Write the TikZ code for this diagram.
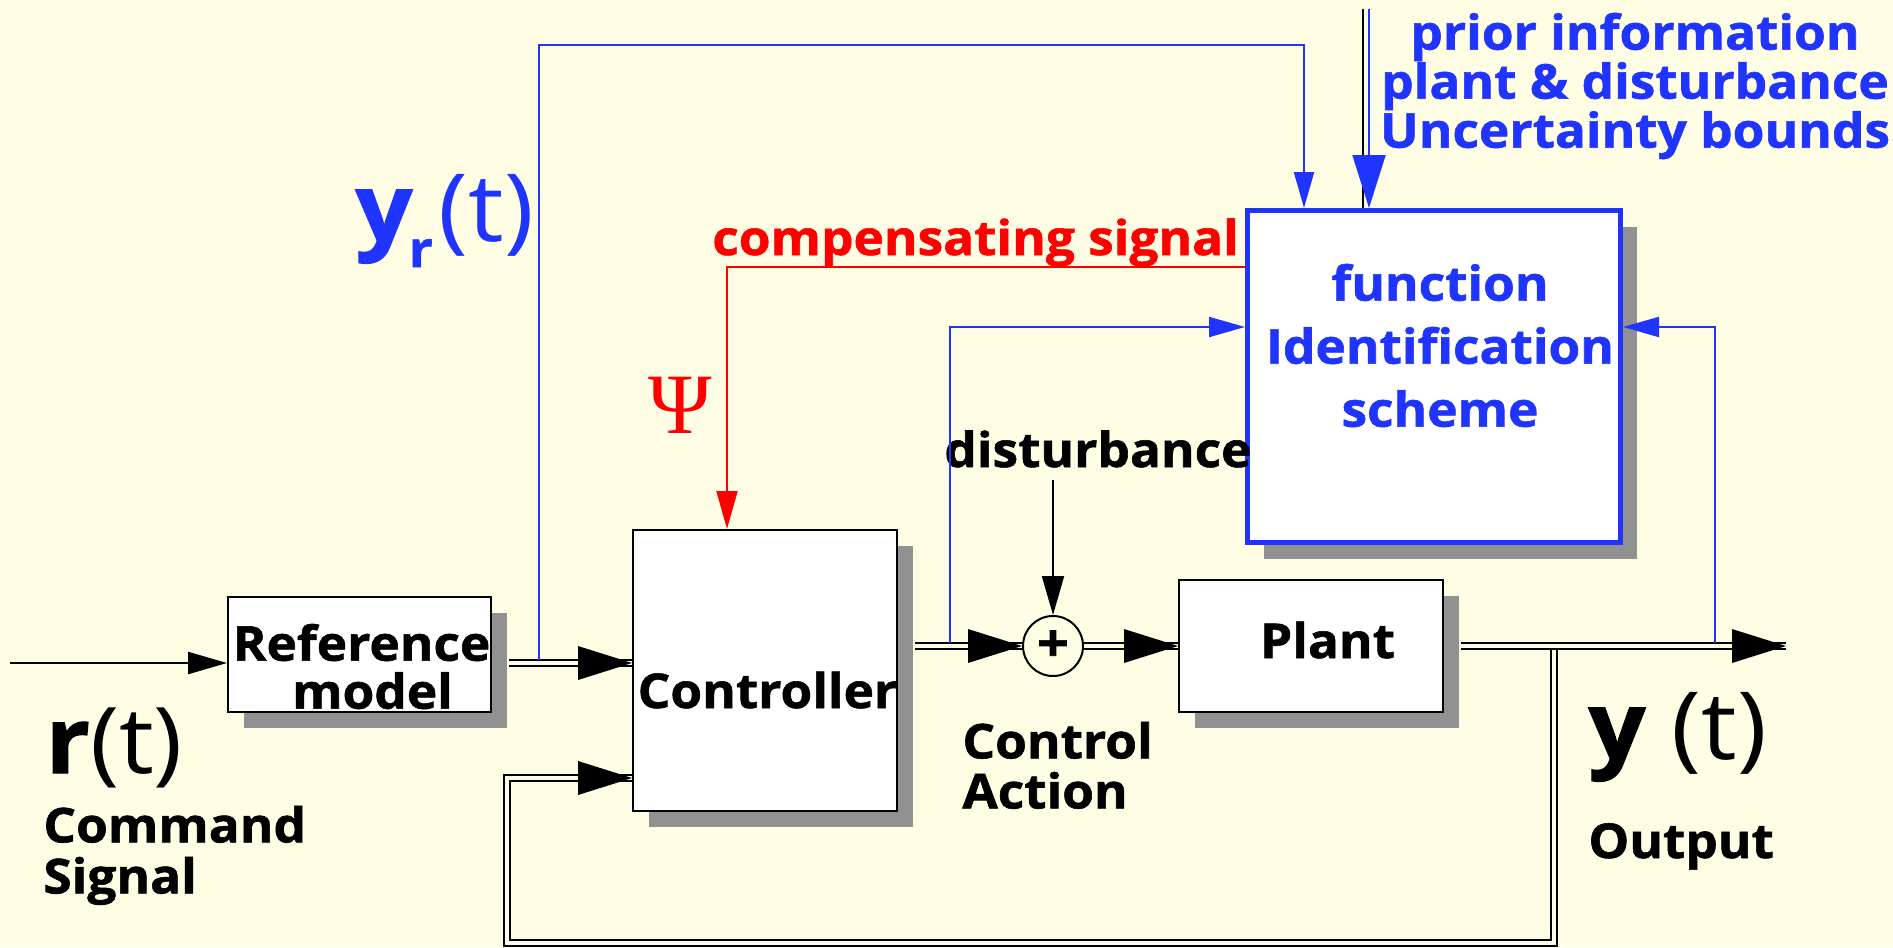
\documentclass[tikz,border=0pt]{standalone}
\usepackage{fontspec}
\setmainfont{Open Sans}[FakeStretch=1.07, BoldFeatures={FakeBold=1.2}]
\newfontfamily\psifont{Liberation Serif}
\usetikzlibrary{arrows.meta,calc,shadows,decorations.markings}

\definecolor{bgcol}{RGB}{255,253,228}
\definecolor{idblue}{RGB}{32,52,255}
\definecolor{shadowgray}{RGB}{145,145,145}

\tikzset{
  blockbox/.style={draw=black, line width=1pt, fill=white, inner sep=0pt,
    drop shadow={shadow xshift=8pt, shadow yshift=-8pt, fill=shadowgray, opacity=1}},
  lbl/.style={inner sep=0pt, font=\fontsize{24}{#1}\selectfont\bfseries},
  lbl/.default=24,
  dbl/.style={draw=black, line width=1pt, double=bgcol, double distance=1.6pt, line join=miter},
  dblarr/.style={dbl, postaction={draw=none, decorate, decoration={markings,
    mark=at position 1 with {\fill[black] (0pt,0pt) -- (-27pt,8.5pt) -- (-27pt,-8.5pt) -- cycle;}}}},
  thinarr/.style={draw=black, line width=1.2pt, -{Triangle[length=19.5pt,width=11pt]}},
  bluearr/.style={draw=idblue, line width=1pt, -{Triangle[length=18pt,width=10pt]}},
  redarr/.style={draw=red, line width=1pt, -{Triangle[length=19pt,width=10.5pt]}},
  priorarr/.style={draw=idblue, line width=1pt, -{Triangle[length=26.5pt,width=16.5pt]}}
}

\begin{document}
\begin{tikzpicture}[x=0.5pt,y=-0.5pt]
  \fill[bgcol] (0,0) rectangle (1893,947);
  \useasboundingbox (0,0) rectangle (1893,947);

  % blocks
  \node[blockbox, minimum width=131.5pt, minimum height=57.5pt] (refbox) at (359.5,654.5) {};
  \node[blockbox, minimum width=132pt, minimum height=140.5pt] (ctrl) at (765,670.5) {};
  \node[blockbox, minimum width=132pt, minimum height=66pt] (plant) at (1311,646) {};
  \node[blockbox, draw=idblue, line width=2.5pt, minimum width=186.5pt, minimum height=166pt] (ident) at (1434,376.5) {};
  \node[draw=black, circle, line width=1pt, fill=bgcol, minimum size=30pt, inner sep=0pt,
    font=\fontsize{26}{26}\selectfont\bfseries] (sum) at (1053,646) {+};

  % texts in the blocks
  \node[lbl, align=center, anchor=north] (reftxt) at (361.5,623.5) {Reference\\\hspace*{11pt}model};
  \node[lbl, anchor=base] (ctrltxt) at (767.5,708) {Controller};
  \node[lbl, anchor=base] (planttxt) at (1327.5,658) {Plant};
  \node[lbl=31.5, align=center, anchor=north, text=idblue] (identtxt) at (1440,263.5) {function\\Identification\\scheme};

  % signal labels
  \node[lbl=25.5, align=left, anchor=north west] (cmdtxt) at (43,805.5) {Command\\Signal};
  \node[lbl=25, align=left, anchor=north west] (acttxt) at (962,721.5) {Control\\Action};
  \node[lbl, anchor=base west] (outtxt) at (1588,858) {Output};
  \node[lbl, anchor=base west] (disttxt) at (944,467) {disturbance};
  \node[lbl, anchor=base west, text=red] (comptxt) at (712,255) {compensating signal};
  \node[lbl=24.5, align=center, anchor=north, text=idblue] (priortxt) at (1635,12.5)
    {prior information\\plant \& disturbance\\Uncertainty bounds};
  \node[anchor=base west, inner sep=0pt, text=red, font=\psifont\fontsize{43}{43}\selectfont] (psitxt) at (648,433) {Ψ};
  \node[anchor=base west, inner sep=0pt, font=\fontsize{46}{46}\selectfont] (rtxt) at (45,773) {\textbf{r}(t)};
  \node[anchor=base west, inner sep=0pt, text=idblue, font=\fontsize{47}{47}\selectfont] (yrtxt) at (355,241)
    {\textbf{y}\kern-2pt\lower13pt\hbox{\fontsize{25}{25}\selectfont\bfseries r}\kern3pt(t)};
  \node[anchor=base west, inner sep=0pt, font=\fontsize{47}{47}\selectfont] (ytxt) at (1588,759) {\textbf{y} (t)};

  % bends and free ends
  \coordinate (cin) at (10,663);
  \coordinate (jr) at (539,660);
  \coordinate (ytop) at (539,45);
  \coordinate (idA) at (1304,45);
  \coordinate (prior) at (1366,9);
  \coordinate (redx) at (727,267);
  \coordinate (idin) at (950,327);
  \coordinate (ju) at (950,643);
  \coordinate (dtop) at (1053,480);
  \coordinate (jo) at (1715,643);
  \coordinate (yout) at (1786,646);
  \coordinate (jf) at (1554,650);
  \coordinate (fb) at (507,943);
  \coordinate (fbin) at (507,778);

  % main loop
  \draw[thinarr] (cin) -- (cin -| refbox.west);
  \draw[dblarr] ($(refbox.east |- cin)+(17,0)$) -- (ctrl.west |- cin);
  \draw[dblarr] ($(ctrl.east |- sum)+(17,0)$) -- (sum.west);
  \draw[dblarr] (sum.east) -- (plant.west);
  \draw[dblarr] ($(plant.east)+(17,0)$) -- (yout);
  \draw[dblarr] (jf) |- (fb) -- (fbin) -- (ctrl.west |- fbin);
  \draw[thinarr, line width=1pt] (dtop) -- (sum.north);

  % identification loop
  \draw[bluearr] (jr) -- (ytop) -| (idA |- ident.north);
  \draw[bluearr] (ju) |- (ident.west |- idin);
  \draw[bluearr] (jo) |- (ident.east |- idin);
  \draw[redarr] (ident.west |- redx) -| (redx |- ctrl.north);
  \draw[line width=1pt] ($(prior)+(-3,0)$) -- ($(prior |- ident.north)+(-3,0)$);
  \draw[priorarr] ($(prior)+(3,0)$) -- ($(prior |- ident.north)+(3,0)$);
\end{tikzpicture}
\end{document}
